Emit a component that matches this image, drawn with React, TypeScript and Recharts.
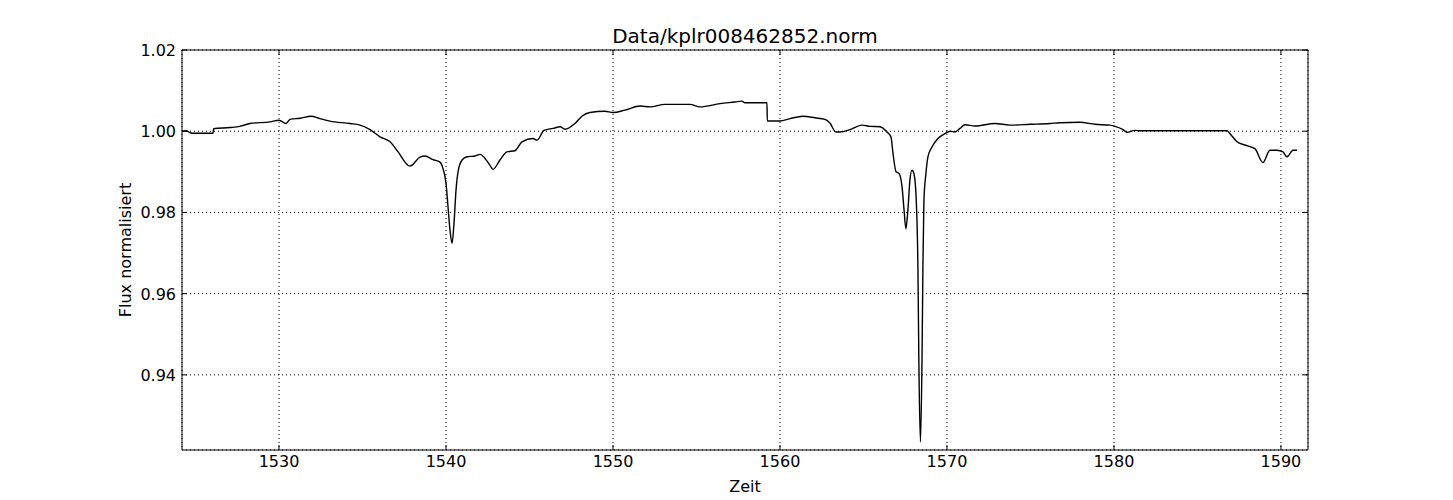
import React from 'react';
import {
  LineChart,
  Line,
  XAxis,
  YAxis,
  CartesianGrid,
} from 'recharts';

if (typeof document !== 'undefined') {
  document.body.style.margin = '0';
}

// Zeit (days)
const zeit = [
  1524.19, 1524.43, 1524.79, 1526.05, 1526.08, 1527.07, 1527.66, 1528.26, 1529.46, 1530.0,
  1530.42, 1530.66, 1531.26, 1531.92, 1532.46, 1533.05, 1534.25, 1534.85, 1535.45, 1536.05,
  1536.65, 1537.13, 1537.84, 1538.44, 1538.74, 1539.22, 1539.64, 1539.82, 1540.0, 1540.12,
  1540.24, 1540.36, 1540.48, 1540.6, 1540.72, 1540.96, 1541.26, 1541.74, 1542.04, 1542.34,
  1542.63, 1542.81, 1543.23, 1543.65, 1544.13, 1544.55, 1545.21, 1545.45, 1545.87, 1546.41,
  1546.83, 1547.13, 1547.72, 1548.14, 1548.62, 1549.52, 1550.0, 1550.72, 1551.62, 1552.22,
  1553.11, 1554.61, 1555.21, 1556.41, 1557.31, 1557.72, 1557.9, 1559.22, 1559.24, 1560.0,
  1560.6, 1561.38, 1562.1, 1562.69, 1562.99, 1563.35, 1563.59, 1564.19, 1564.91, 1565.39,
  1565.99, 1566.41, 1566.65, 1566.77, 1566.95, 1567.13, 1567.31, 1567.43, 1567.54, 1567.66,
  1567.78, 1567.9, 1568.02, 1568.14, 1568.26, 1568.32, 1568.41, 1568.5, 1568.56, 1568.62,
  1568.74, 1568.86, 1569.1, 1569.46, 1569.88, 1570.18, 1570.48, 1570.78, 1571.08, 1571.68,
  1572.87, 1573.77, 1574.97, 1576.17, 1576.77, 1577.96, 1578.86, 1579.76, 1580.06, 1580.54,
  1580.78, 1581.26, 1581.56, 1586.77, 1586.95, 1587.37, 1587.84, 1588.44, 1588.92, 1589.34,
  1589.76, 1590.12, 1590.36, 1590.72, 1590.96,
];

// normalised flux at each time
const flux = [
  1.0, 1.0001, 0.9995, 0.9995, 1.0006, 1.0009, 1.0012, 1.0019, 1.0023, 1.0027,
  1.0019, 1.0029, 1.0032, 1.0037, 1.0031, 1.0025, 1.0019, 1.0015, 1.0004, 0.9986,
  0.9974, 0.9949, 0.9914, 0.9936, 0.9939, 0.993, 0.9924, 0.9908, 0.9872, 0.9814,
  0.9756, 0.9724, 0.9774, 0.9855, 0.99, 0.9929, 0.9937, 0.9939, 0.9943, 0.9933,
  0.9916, 0.9906, 0.9929, 0.9949, 0.9952, 0.9974, 0.9982, 0.9978, 1.0002, 1.0007,
  1.0011, 1.0005, 1.0019, 1.0037, 1.0046, 1.0049, 1.0046, 1.0052, 1.0062, 1.006,
  1.0066, 1.0066, 1.006, 1.0068, 1.0072, 1.0074, 1.007, 1.007, 1.0025, 1.0025,
  1.0031, 1.0037, 1.0033, 1.0029, 1.002, 0.9998, 0.9998, 1.0004, 1.0015, 1.0012,
  1.0011, 0.9998, 0.9985, 0.9945, 0.99, 0.9896, 0.9863, 0.9806, 0.976, 0.9806,
  0.9879, 0.9904, 0.9896, 0.9847, 0.9666, 0.942, 0.9235, 0.942, 0.9666, 0.983,
  0.9896, 0.9937, 0.9961, 0.9982, 0.9994, 1.0, 0.9998, 1.0007, 1.0016, 1.0013,
  1.0019, 1.0015, 1.0017, 1.0019, 1.0021, 1.0022, 1.0017, 1.0015, 1.0012, 1.0004,
  0.9997, 1.0002, 1.0001, 1.0001, 0.9994, 0.9974, 0.9966, 0.9957, 0.9923, 0.9953,
  0.9953, 0.9949, 0.9937, 0.9953, 0.9953,
];

const xTicks = [1530, 1540, 1550, 1560, 1570, 1580, 1590];
const yTicks = [0.94, 0.96, 0.98, 1.0, 1.02];

const data = zeit.map((t, i) => ({ t, f: flux[i] }));

const FONT = '"DejaVu Sans", sans-serif';

const BottomTick = ({ x, y, payload }: any) => (
  <g>
    <line x1={x} y1={y} x2={x} y2={y - 5} stroke="#000" />
    <text x={x} y={y + 17} textAnchor="middle" fontSize={16} fontFamily={FONT} fill="#000">
      {payload.value}
    </text>
  </g>
);

const TopTick = ({ x, y }: any) => (
  <line x1={x} y1={y} x2={x} y2={y + 5} stroke="#000" />
);

const LeftTick = ({ x, y, payload }: any) => (
  <g>
    <line x1={x} y1={y} x2={x + 5} y2={y} stroke="#000" />
    <text x={x - 6} y={y + 6} textAnchor="end" fontSize={16} fontFamily={FONT} fill="#000">
      {Number(payload.value).toFixed(2)}
    </text>
  </g>
);

const RightTick = ({ x, y }: any) => (
  <line x1={x} y1={y} x2={x - 5} y2={y} stroke="#000" />
);

export default function App() {
  return (
    <div style={{ position: 'relative', width: 1453, height: 500, background: '#fff' }}>
      <div
        style={{
          position: 'absolute',
          top: 24,
          left: 0,
          width: 1490,
          textAlign: 'center',
          fontFamily: FONT,
          fontSize: 20,
          color: '#000',
        }}
      >
        Data/kplr008462852.norm
      </div>
      <LineChart
        width={1453}
        height={500}
        data={data}
        margin={{ top: 49, right: 144, bottom: 0, left: 122 }}
      >
        <CartesianGrid stroke="#000" strokeDasharray="1 3" />
        <XAxis
          dataKey="t"
          type="number"
          domain={[1524.19, 1591.62]}
          ticks={xTicks}
          allowDataOverflow
          height={50}
          tickSize={0}
          tickMargin={0}
          tickLine={false}
          axisLine={{ stroke: '#000' }}
          tick={<BottomTick />}
          interval={0}
          label={{
            value: 'Zeit',
            position: 'insideBottom',
            offset: 8,
            fontSize: 16,
            fontFamily: FONT,
            fill: '#000',
          }}
        />
        <XAxis
          xAxisId="top"
          orientation="top"
          dataKey="t"
          type="number"
          domain={[1524.19, 1591.62]}
          ticks={xTicks}
          allowDataOverflow
          height={1}
          tickSize={0}
          tickMargin={0}
          tickLine={false}
          axisLine={{ stroke: '#000' }}
          tick={<TopTick />}
          interval={0}
        />
        <YAxis
          type="number"
          domain={[0.9215, 1.02]}
          ticks={yTicks}
          allowDataOverflow
          width={60}
          tickSize={0}
          tickMargin={0}
          tickLine={false}
          axisLine={{ stroke: '#000' }}
          tick={<LeftTick />}
          interval={0}
          label={{
            value: 'Flux normalisiert',
            angle: -90,
            position: 'insideLeft',
            offset: 3,
            fontSize: 16,
            fontFamily: FONT,
            fill: '#000',
            style: { textAnchor: 'middle' },
          }}
        />
        <YAxis
          yAxisId="right"
          orientation="right"
          type="number"
          domain={[0.9215, 1.02]}
          ticks={yTicks}
          allowDataOverflow
          width={1}
          tickSize={0}
          tickMargin={0}
          tickLine={false}
          axisLine={{ stroke: '#000' }}
          tick={<RightTick />}
          interval={0}
        />
        <Line
          type="monotone"
          dataKey="f"
          stroke="#000"
          strokeWidth={1.4}
          dot={false}
          isAnimationActive={false}
        />
      </LineChart>
    </div>
  );
}
